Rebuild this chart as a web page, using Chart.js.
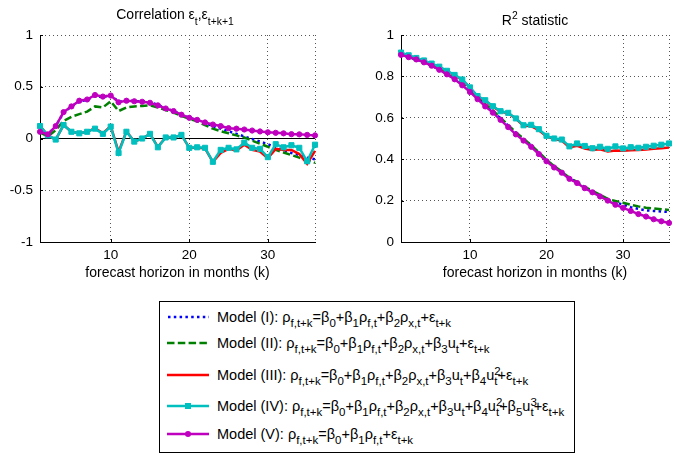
<!DOCTYPE html>
<html>
<head>
<meta charset="utf-8">
<script src="https://cdn.jsdelivr.net/npm/chart.js@4.4.1/dist/chart.umd.min.js"></script>
<style>
  body { margin: 0; background: #fff; }
  #wrap { position: relative; width: 674px; height: 457px; overflow: hidden; background: #fff;
          font-family: "Liberation Sans", Arial, sans-serif; color: #000; }
  #corrChart { position: absolute; left: 0; top: 0; }
  #r2Chart { position: absolute; left: 340px; top: 0; }
  .legend-box { position: absolute; left: 159px; top: 301px; width: 416px; height: 152px;
                border: 1px solid #000; box-sizing: border-box; }
  .row { position: absolute; left: 217px; font-size: 14.5px; line-height: 16px; white-space: nowrap; }
  .row .sb { font-size: 11.5px; position: relative; top: 4.5px; }
  .row .sp { position: absolute; left: 0; top: -11.5px; }
  .sample { position: absolute; left: 167px; }
</style>
</head>
<body>
<div id="wrap">
  <canvas id="corrChart" width="340" height="290"></canvas>
  <canvas id="r2Chart" width="334" height="290"></canvas>
  <div class="legend-box"></div>
  <svg class="sample" style="top:312px" width="42" height="10"><line x1="1" y1="5" x2="42" y2="5" stroke="#0000ff" stroke-width="2.5" stroke-dasharray="2.5 3.3"/></svg>
  <div class="row" style="top:309px">Model (I): ρ<span class="sb">f,t+k</span>=β<span class="sb">0</span>+β<span class="sb">1</span>ρ<span class="sb">f,t</span>+β<span class="sb">2</span>ρ<span class="sb">x,t</span>+ε<span class="sb">t+k</span></div>
  <svg class="sample" style="top:338px" width="42" height="10"><line x1="0" y1="5" x2="42" y2="5" stroke="#008000" stroke-width="2.5" stroke-dasharray="7.5 3.3"/></svg>
  <div class="row" style="top:335px">Model (II): ρ<span class="sb">f,t+k</span>=β<span class="sb">0</span>+β<span class="sb">1</span>ρ<span class="sb">f,t</span>+β<span class="sb">2</span>ρ<span class="sb">x,t</span>+β<span class="sb">3</span>u<span class="sb">t</span>+ε<span class="sb">t+k</span></div>
  <svg class="sample" style="top:370px" width="42" height="10"><line x1="0" y1="5" x2="42" y2="5" stroke="#ff0000" stroke-width="2.5"/></svg>
  <div class="row" style="top:367px">Model (III): ρ<span class="sb">f,t+k</span>=β<span class="sb">0</span>+β<span class="sb">1</span>ρ<span class="sb">f,t</span>+β<span class="sb">2</span>ρ<span class="sb">x,t</span>+β<span class="sb">3</span>u<span class="sb">t</span>+β<span class="sb">4</span>u<span class="sb">t<span class="sp">2</span></span>+ε<span class="sb">t+k</span></div>
  <svg class="sample" style="top:401px" width="42" height="10"><line x1="0" y1="5" x2="42" y2="5" stroke="#00bfbf" stroke-width="2.5"/><rect x="18" y="2" width="6" height="6" fill="#00bfbf"/></svg>
  <div class="row" style="top:398px">Model (IV): ρ<span class="sb">f,t+k</span>=β<span class="sb">0</span>+β<span class="sb">1</span>ρ<span class="sb">f,t</span>+β<span class="sb">2</span>ρ<span class="sb">x,t</span>+β<span class="sb">3</span>u<span class="sb">t</span>+β<span class="sb">4</span>u<span class="sb">t<span class="sp">2</span></span>+β<span class="sb">5</span>u<span class="sb">t<span class="sp">3</span></span>+ε<span class="sb">t+k</span></div>
  <svg class="sample" style="top:429px" width="42" height="10"><line x1="0" y1="5" x2="42" y2="5" stroke="#bf00bf" stroke-width="2.5"/><circle cx="21" cy="5" r="3" fill="#bf00bf"/></svg>
  <div class="row" style="top:426px">Model (V): ρ<span class="sb">f,t+k</span>=β<span class="sb">0</span>+β<span class="sb">1</span>ρ<span class="sb">f,t</span>+ε<span class="sb">t+k</span></div>
</div>
<script>
// forecast horizon k (months)
const horizons = [1, 2, 3, 4, 5, 6, 7, 8, 9, 10, 11, 12, 13, 14, 15, 16, 17, 18,
  19, 20, 21, 22, 23, 24, 25, 26, 27, 28, 29, 30, 31, 32, 33, 34, 35, 36];
const horizonTicks = [10, 20, 30];

// left panel: correlation of residuals
const corrModel1 = [0.07, 0.04, 0.12, 0.25, 0.31, 0.355, 0.375, 0.41, 0.40, 0.42, 0.355, 0.37,
  0.36, 0.36, 0.35, 0.325, 0.295, 0.265, 0.23, 0.20, 0.175, 0.15, 0.12, 0.095,
  0.07, 0.045, 0.02, -0.005, -0.03, -0.055, -0.085, -0.11, -0.14, -0.16, -0.185, -0.2];
const corrModel2 = [0.06, 0.02, 0.08, 0.17, 0.21, 0.235, 0.26, 0.31, 0.30, 0.36, 0.265, 0.30,
  0.31, 0.315, 0.32, 0.30, 0.275, 0.25, 0.22, 0.19, 0.165, 0.13, 0.095, 0.07,
  0.05, 0.03, 0.01, -0.02, -0.05, -0.08, -0.11, -0.135, -0.16, -0.185, -0.21, -0.235];
const corrModel3 = [0.12, 0.03, -0.01, 0.13, 0.065, 0.05, 0.065, 0.1, 0.05, 0.12, -0.13, 0.07,
  -0.03, 0.0, 0.045, -0.08, 0.01, 0.01, 0.035, -0.09, -0.09, -0.095, -0.225, -0.14,
  -0.1, -0.115, -0.06, -0.11, -0.125, -0.19, -0.1, -0.11, -0.11, -0.15, -0.245, -0.12];
const corrModel4 = [0.12, 0.03, -0.01, 0.13, 0.065, 0.05, 0.065, 0.095, 0.045, 0.115, -0.14, 0.065,
  -0.03, 0.0, 0.045, -0.085, 0.01, 0.01, 0.035, -0.09, -0.085, -0.09, -0.225, -0.11,
  -0.09, -0.105, -0.04, -0.09, -0.1, -0.18, -0.055, -0.085, -0.065, -0.09, -0.22, -0.06];
const corrModel5 = [0.065, 0.04, 0.12, 0.255, 0.31, 0.365, 0.377, 0.42, 0.405, 0.415, 0.35, 0.365,
  0.36, 0.355, 0.345, 0.32, 0.29, 0.265, 0.23, 0.20, 0.18, 0.155, 0.135, 0.12,
  0.10, 0.095, 0.087, 0.077, 0.068, 0.06, 0.055, 0.05, 0.042, 0.04, 0.035, 0.03];
const corrTicks = [-1, -0.5, 0, 0.5, 1];
const zeroLineX = [1, 36];
const zeroLineY = [0, 0];

// right panel: R^2
const r2Model1 = [0.904, 0.893, 0.882, 0.868, 0.852, 0.833, 0.812, 0.789, 0.762, 0.732, 0.698, 0.663,
  0.632, 0.597, 0.562, 0.527, 0.496, 0.466, 0.43, 0.394, 0.364, 0.338, 0.308, 0.288,
  0.264, 0.244, 0.225, 0.205, 0.192, 0.18, 0.168, 0.16, 0.153, 0.15, 0.147, 0.145];
const r2Model2 = [0.905, 0.894, 0.883, 0.87, 0.854, 0.835, 0.815, 0.792, 0.765, 0.735, 0.701, 0.666,
  0.635, 0.6, 0.565, 0.53, 0.499, 0.468, 0.433, 0.397, 0.367, 0.34, 0.31, 0.29,
  0.266, 0.247, 0.228, 0.208, 0.198, 0.19, 0.18, 0.172, 0.166, 0.162, 0.158, 0.155];
const r2Model3 = [0.913, 0.9, 0.887, 0.875, 0.86, 0.845, 0.825, 0.805, 0.783, 0.745, 0.703, 0.683,
  0.654, 0.63, 0.622, 0.595, 0.562, 0.56, 0.54, 0.51, 0.497, 0.49, 0.457, 0.465,
  0.452, 0.444, 0.448, 0.437, 0.442, 0.441, 0.443, 0.444, 0.447, 0.45, 0.453, 0.456];
const r2Model4 = [0.915, 0.902, 0.889, 0.877, 0.862, 0.847, 0.827, 0.807, 0.785, 0.747, 0.705, 0.685,
  0.656, 0.632, 0.624, 0.597, 0.564, 0.566, 0.545, 0.513, 0.5, 0.495, 0.462, 0.476,
  0.464, 0.453, 0.46, 0.45, 0.462, 0.452, 0.458, 0.455, 0.46, 0.465, 0.47, 0.476];
const r2Model5 = [0.904, 0.893, 0.882, 0.868, 0.852, 0.832, 0.81, 0.786, 0.757, 0.725, 0.69, 0.655,
  0.625, 0.59, 0.555, 0.52, 0.49, 0.46, 0.425, 0.39, 0.36, 0.335, 0.305, 0.285,
  0.26, 0.24, 0.22, 0.2, 0.18, 0.165, 0.15, 0.135, 0.123, 0.11, 0.1, 0.092];
const r2Ticks = [0, 0.2, 0.4, 0.6, 0.8, 1];

const FONT = '"Liberation Sans", Arial, sans-serif';
Chart.defaults.font.family = FONT;
Chart.defaults.color = "#000";

const modelStyles = [
  { color: "#0000ff", dash: [2.5, 3.3], marker: false },
  { color: "#008000", dash: [7.5, 3.3], marker: false },
  { color: "#ff0000", dash: [], marker: false },
  { color: "#00bfbf", dash: [], marker: "rect" },
  { color: "#bf00bf", dash: [], marker: "circle" },
];

function toPoints(xs, ys) {
  return ys.map((y, i) => ({ x: xs[i], y }));
}

function modelDatasets(seriesList) {
  return seriesList.map((ys, i) => {
    const st = modelStyles[i];
    return {
      data: toPoints(horizons, ys),
      borderColor: st.color,
      backgroundColor: st.color,
      borderWidth: 2.5,
      borderDash: st.dash,
      borderCapStyle: "butt",
      pointStyle: st.marker || "circle",
      pointRadius: st.marker === "rect" ? 3.6 : st.marker ? 2.6 : 0,
      pointBorderWidth: 1,
      pointBorderColor: st.color,
      pointBackgroundColor: st.color,
      tension: 0,
      clip: false,
      order: 5 - i,
    };
  });
}

// draws text with sub/superscripts, parts = [[text, "n" | "b" | "p"]]
function drawRich(ctx, parts, cx, y, size) {
  const small = size * 0.74;
  const fontFor = (kind) => `${kind === "n" ? size : small}px ${FONT}`;
  let total = 0;
  const widths = parts.map(([t, kind]) => {
    ctx.font = fontFor(kind);
    const w = ctx.measureText(t).width;
    total += w;
    return w;
  });
  let x = cx - total / 2;
  ctx.save();
  ctx.fillStyle = "#000";
  ctx.textAlign = "left";
  ctx.textBaseline = "alphabetic";
  parts.forEach(([t, kind], i) => {
    ctx.font = fontFor(kind);
    const dy = kind === "b" ? 6 : kind === "p" ? -6 : 0;
    ctx.fillText(t, x, y + dy);
    x += widths[i];
  });
  ctx.restore();
}

const panelDecor = {
  id: "panelDecor",
  afterDraw(chart, args, opts) {
    const { ctx, chartArea, scales } = chart;
    // inward tick marks like the original axes
    ctx.save();
    ctx.strokeStyle = "#000";
    ctx.lineWidth = 1;
    ctx.beginPath();
    horizonTicks.forEach((v) => {
      const px = Math.round(scales.x.getPixelForValue(v)) + 0.5;
      ctx.moveTo(px, chartArea.bottom);
      ctx.lineTo(px, chartArea.bottom - 3);
    });
    opts.yTicks.forEach((v) => {
      const py = Math.round(scales.y.getPixelForValue(v)) + 0.5;
      ctx.moveTo(chartArea.left, py);
      ctx.lineTo(chartArea.left + 3, py);
    });
    ctx.stroke();
    ctx.restore();
    const cx = (chartArea.left + chartArea.right) / 2 + (opts.titleDx || 0);
    drawRich(ctx, opts.title, cx, opts.titleY, 14);
  },
};

function makePanel(canvasId, datasets, yTicks, yWidth, padRight, title, titleY, titleDx) {
  const maxK = horizons[horizons.length - 1];
  return new Chart(document.getElementById(canvasId), {
    type: "line",
    data: { datasets },
    options: {
      responsive: false,
      animation: false,
      devicePixelRatio: 1,
      events: [],
      layout: { padding: { top: 35, right: padRight, left: 0, bottom: 0 } },
      plugins: {
        legend: { display: false },
        tooltip: { enabled: false },
        title: { display: false },
        panelDecor: { yTicks, title, titleY, titleDx },
      },
      scales: {
        x: {
          type: "linear",
          min: horizons[0],
          max: maxK,
          afterBuildTicks: (scale) => {
            scale.ticks = horizonTicks.concat([maxK]).map((v) => ({ value: v }));
          },
          afterFit: (scale) => { scale.height = 48; },
          ticks: {
            padding: 5,
            maxRotation: 0,
            autoSkip: false,
            font: { size: 13.5 },
            callback: (v) => (horizonTicks.includes(v) ? String(v) : ""),
          },
          grid: { color: "#555", lineWidth: 1, drawTicks: false },
          border: { display: true, color: "#000", width: 1, dash: [1, 3] },
          title: {
            display: true,
            text: "forecast horizon in months (k)",
            font: { size: 14, lineHeight: 1.2 },
            padding: { top: 0, bottom: 8.6 },
          },
        },
        y: {
          type: "linear",
          min: yTicks[0],
          max: yTicks[yTicks.length - 1],
          afterBuildTicks: (scale) => {
            scale.ticks = yTicks.map((v) => ({ value: v }));
          },
          afterFit: (scale) => { scale.width = yWidth; },
          ticks: {
            padding: 7,
            font: { size: 13.5 },
            callback: (v) => String(Math.round(v * 10) / 10),
          },
          grid: { color: "#555", lineWidth: 1, drawTicks: false },
          border: { display: true, color: "#000", width: 1, dash: [1, 3] },
        },
      },
    },
    plugins: [panelDecor],
  });
}

const zeroLine = {
  data: toPoints(zeroLineX, zeroLineY),
  borderColor: "#000",
  borderWidth: 1,
  pointRadius: 0,
  clip: false,
  order: 10,
};

makePanel(
  "corrChart",
  [zeroLine].concat(modelDatasets([corrModel1, corrModel2, corrModel3, corrModel4, corrModel5])),
  corrTicks, 40, 25,
  [["Correlation ε", "n"], ["t", "b"], [",ε", "n"], ["t+k+1", "b"]],
  19, -2.5
);

makePanel(
  "r2Chart",
  modelDatasets([r2Model1, r2Model2, r2Model3, r2Model4, r2Model5]),
  r2Ticks, 61, 0,
  [["R", "n"], ["2", "p"], [" statistic", "n"]],
  25, 0
);
</script>
</body>
</html>
